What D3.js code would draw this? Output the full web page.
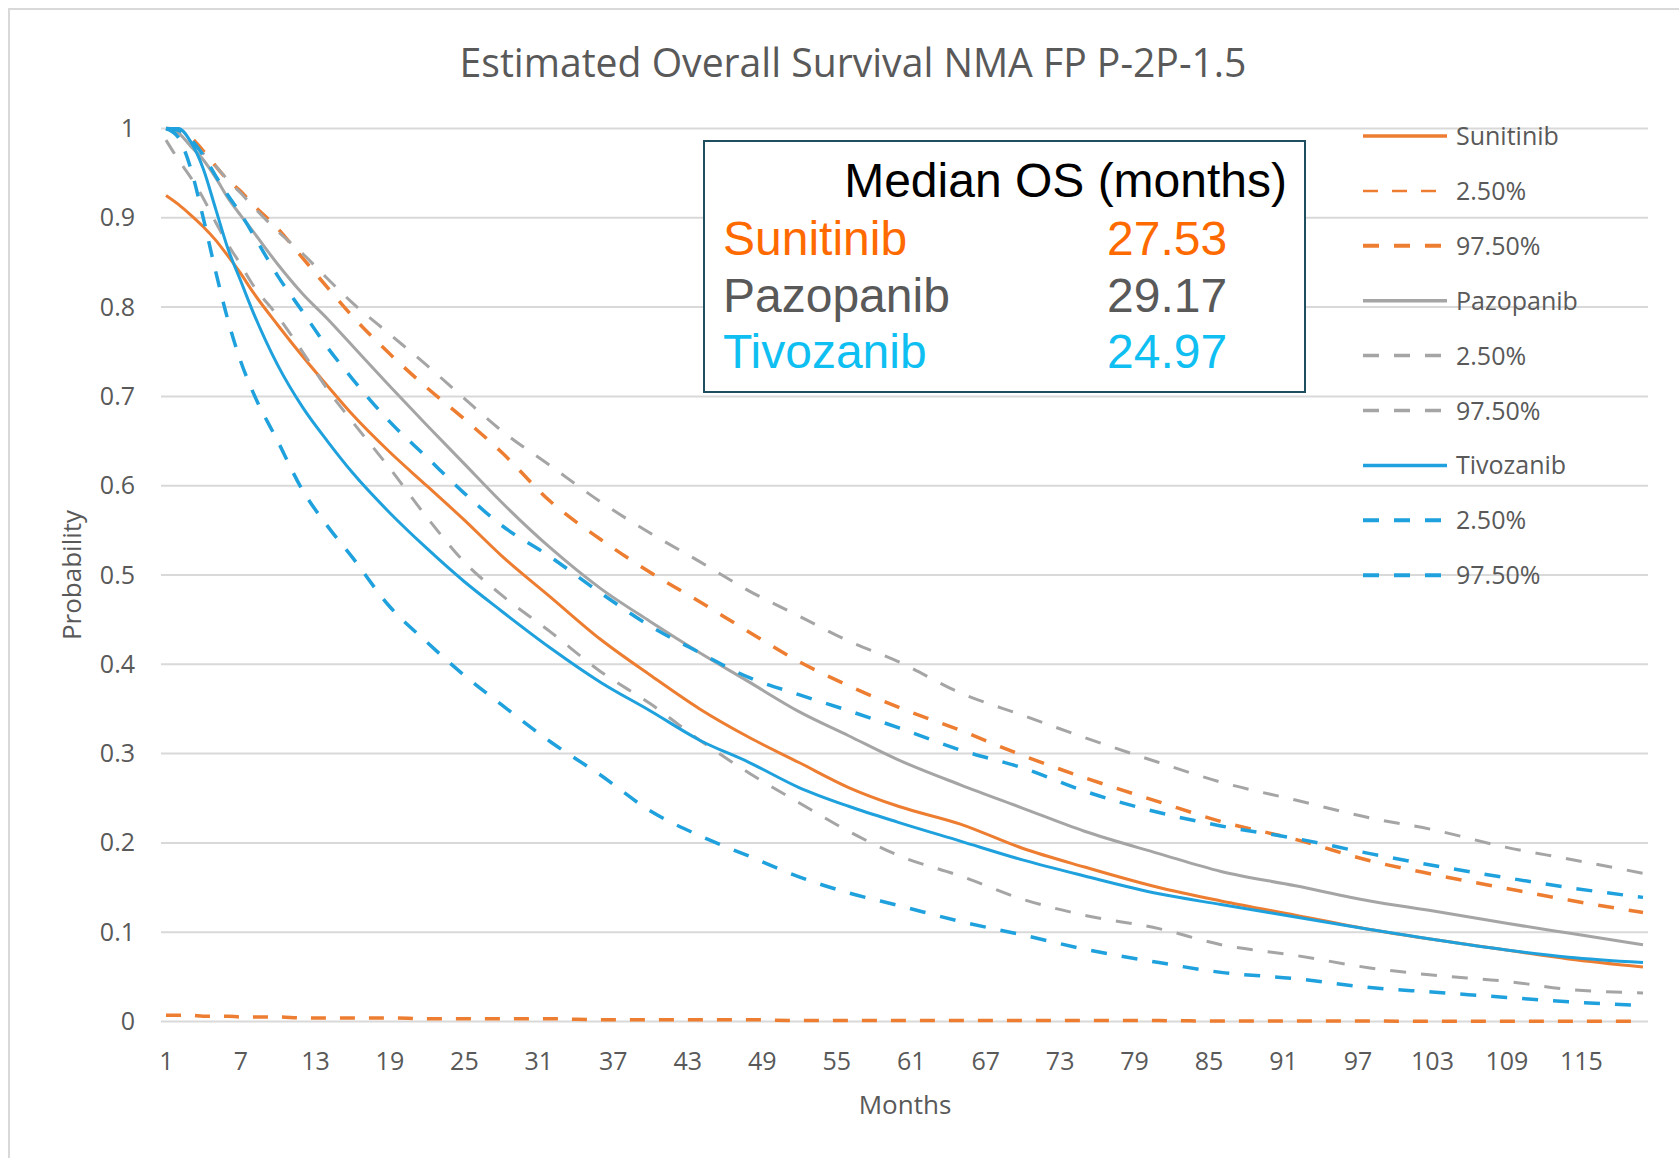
<!DOCTYPE html>
<html>
<head>
<meta charset="utf-8">
<script src="https://cdn.jsdelivr.net/npm/d3@7"></script>
<style>
  html, body { margin: 0; padding: 0; background: #ffffff; }
  svg { display: block; }
</style>
</head>
<body>
<svg id="chart" width="1679" height="1159"></svg>
<script>
// Survival estimates (probability) sampled at these months
const months = [1, 2, 3, 4, 5, 6, 7, 8, 10, 12, 14, 16, 19, 22, 25, 28, 32, 36, 40, 44, 48, 52, 56, 60, 65, 70, 75, 81, 86, 92, 98, 103, 109, 114, 120];

const sunitinib   = [0.925, 0.915, 0.903, 0.890, 0.875, 0.857, 0.838, 0.817, 0.780, 0.745, 0.712, 0.680, 0.638, 0.600, 0.562, 0.522, 0.475, 0.428, 0.388, 0.350, 0.318, 0.290, 0.262, 0.241, 0.221, 0.194, 0.173, 0.150, 0.135, 0.119, 0.103, 0.092, 0.080, 0.070, 0.061];
const sunitinibLo = [0.007, 0.007, 0.007, 0.006, 0.006, 0.006, 0.005, 0.005, 0.005, 0.004, 0.004, 0.004, 0.004, 0.003, 0.003, 0.003, 0.003, 0.002, 0.002, 0.002, 0.002, 0.001, 0.001, 0.001, 0.001, 0.001, 0.001, 0.001, 0.0005, 0.0005, 0.0005, 0.0003, 0.0003, 0.0003, 0.0003];
const sunitinibHi = [1.000, 0.998, 0.990, 0.975, 0.958, 0.942, 0.930, 0.915, 0.888, 0.855, 0.822, 0.790, 0.748, 0.710, 0.675, 0.638, 0.582, 0.540, 0.503, 0.470, 0.436, 0.403, 0.376, 0.352, 0.326, 0.298, 0.273, 0.246, 0.224, 0.204, 0.180, 0.165, 0.149, 0.136, 0.122];

const pazopanib   = [1.000, 0.995, 0.980, 0.965, 0.945, 0.922, 0.903, 0.885, 0.848, 0.815, 0.787, 0.757, 0.712, 0.668, 0.625, 0.582, 0.530, 0.485, 0.448, 0.413, 0.380, 0.347, 0.320, 0.293, 0.265, 0.239, 0.213, 0.188, 0.168, 0.152, 0.135, 0.124, 0.110, 0.099, 0.086];
const pazopanibLo = [0.987, 0.965, 0.945, 0.922, 0.895, 0.870, 0.848, 0.825, 0.790, 0.750, 0.708, 0.672, 0.620, 0.565, 0.515, 0.478, 0.436, 0.392, 0.356, 0.315, 0.278, 0.245, 0.213, 0.186, 0.163, 0.137, 0.119, 0.104, 0.086, 0.074, 0.060, 0.052, 0.045, 0.036, 0.032];
const pazopanibHi = [1.000, 0.995, 0.985, 0.972, 0.958, 0.942, 0.928, 0.913, 0.885, 0.860, 0.832, 0.805, 0.770, 0.735, 0.698, 0.662, 0.622, 0.582, 0.547, 0.515, 0.482, 0.454, 0.426, 0.403, 0.368, 0.343, 0.318, 0.290, 0.268, 0.248, 0.228, 0.215, 0.195, 0.182, 0.166];

const tivozanib   = [1.000, 1.000, 0.985, 0.955, 0.910, 0.865, 0.830, 0.795, 0.735, 0.688, 0.650, 0.615, 0.570, 0.530, 0.493, 0.460, 0.418, 0.380, 0.348, 0.315, 0.290, 0.262, 0.241, 0.223, 0.202, 0.181, 0.163, 0.143, 0.131, 0.117, 0.103, 0.092, 0.080, 0.072, 0.066];
const tivozanibLo = [1.000, 0.990, 0.955, 0.900, 0.840, 0.785, 0.740, 0.705, 0.650, 0.595, 0.555, 0.520, 0.465, 0.425, 0.388, 0.355, 0.313, 0.276, 0.236, 0.208, 0.185, 0.162, 0.144, 0.130, 0.112, 0.097, 0.081, 0.066, 0.055, 0.048, 0.038, 0.033, 0.027, 0.022, 0.018];
const tivozanibHi = [1.000, 0.998, 0.988, 0.970, 0.947, 0.925, 0.905, 0.882, 0.835, 0.795, 0.755, 0.720, 0.672, 0.632, 0.592, 0.556, 0.520, 0.480, 0.443, 0.413, 0.385, 0.366, 0.348, 0.329, 0.304, 0.284, 0.258, 0.234, 0.219, 0.205, 0.188, 0.175, 0.161, 0.150, 0.139];

const xTickLabels = [1, 7, 13, 19, 25, 31, 37, 43, 49, 55, 61, 67, 73, 79, 85, 91, 97, 103, 109, 115];
const yTickLabels = [0, 0.1, 0.2, 0.3, 0.4, 0.5, 0.6, 0.7, 0.8, 0.9, 1];

const legendLabels = ["Sunitinib", "2.50%", "97.50%", "Pazopanib", "2.50%", "97.50%", "Tivozanib", "2.50%", "97.50%"];

const tableDrugs   = ["Sunitinib", "Pazopanib", "Tivozanib"];
const tableMedians = ["27.53", "29.17", "24.97"];

// Styling
const ORANGE = "#ED7D31", GRAY = "#A5A5A5", BLUE = "#1FA1DD";
const seriesData = [sunitinib, sunitinibLo, sunitinibHi, pazopanib, pazopanibLo, pazopanibHi, tivozanib, tivozanibLo, tivozanibHi];
const seriesStyle = [
  { color: ORANGE, width: 3,   key: 3.5, dash: null },
  { color: ORANGE, width: 3.5, key: 2.5, dash: "15,14" },
  { color: ORANGE, width: 3.5, key: 4,   dash: "16,15" },
  { color: GRAY,   width: 3,   key: 3.5, dash: null },
  { color: GRAY,   width: 3,   key: 3.5, dash: "16,15" },
  { color: GRAY,   width: 3,   key: 3.5, dash: "16,15" },
  { color: BLUE,   width: 3,   key: 3.5, dash: null },
  { color: BLUE,   width: 3.5, key: 4,   dash: "16,15" },
  { color: BLUE,   width: 3.5, key: 4,   dash: "16,15" }
];
const tableColors = ["#FF6A00", "#595959", "#10BFF2"];

const svg = d3.select("#chart");
const labelFont = "'Open Sans', 'DejaVu Sans', sans-serif";

// Outer chart frame
svg.append("path")
  .attr("d", "M9,1158 L9,9 L1679,9")
  .attr("fill", "none").attr("stroke", "#D9D9D9").attr("stroke-width", 2);

const x = d3.scaleLinear().domain([1, 120]).range([166, 1643]);
const y = d3.scaleLinear().domain([0, 1]).range([1021.5, 128.5]);

// Horizontal gridlines
svg.append("g").selectAll("line").data(yTickLabels).join("line")
  .attr("x1", 161).attr("x2", 1648)
  .attr("y1", d => y(d)).attr("y2", d => y(d))
  .attr("stroke", "#D9D9D9").attr("stroke-width", 2);

// Y axis labels
const yAxis = d3.axisLeft(y).tickValues(yTickLabels).tickSize(0).tickPadding(0).tickFormat(d3.format("~g"));
const gy = svg.append("g").attr("transform", "translate(135,0)").call(yAxis);
gy.select(".domain").remove();
gy.selectAll("text").attr("font-family", labelFont).attr("font-size", 25).attr("fill", "#595959");

// X axis labels
const xAxis = d3.axisBottom(x).tickValues(xTickLabels).tickSize(0).tickPadding(0).tickFormat(d3.format("d"));
const gx = svg.append("g").attr("transform", "translate(0,1052)").call(xAxis);
gx.select(".domain").remove();
gx.selectAll("text").attr("font-family", labelFont).attr("font-size", 25).attr("fill", "#595959");

// Curves
const line = d3.line().x((d, i) => x(months[i])).y(d => y(d)).curve(d3.curveMonotoneX);
svg.append("g").selectAll("path").data(seriesData).join("path")
  .attr("d", d => line(d))
  .attr("fill", "none")
  .attr("stroke", (d, i) => seriesStyle[i].color)
  .attr("stroke-width", (d, i) => seriesStyle[i].width)
  .attr("stroke-dasharray", (d, i) => seriesStyle[i].dash)
  .attr("stroke-linejoin", "round");

// Title
svg.append("text")
  .attr("x", 853).attr("y", 77)
  .attr("text-anchor", "middle")
  .attr("font-family", labelFont).attr("font-size", 40).attr("fill", "#595959")
  .attr("textLength", 787).attr("lengthAdjust", "spacingAndGlyphs")
  .text("Estimated Overall Survival NMA FP P-2P-1.5");

// Axis titles
svg.append("text")
  .attr("x", 905).attr("y", 1114)
  .attr("text-anchor", "middle")
  .attr("font-family", labelFont).attr("font-size", 26).attr("fill", "#595959")
  .text("Months");
svg.append("text")
  .attr("transform", "translate(81,575) rotate(-90)")
  .attr("text-anchor", "middle")
  .attr("font-family", labelFont).attr("font-size", 26).attr("fill", "#595959")
  .text("Probability");

// Legend
const legend = svg.append("g");
const rowY = i => 136 + i * 54.9;
legend.selectAll("line").data(legendLabels).join("line")
  .attr("x1", 1363).attr("x2", 1447)
  .attr("y1", (d, i) => rowY(i)).attr("y2", (d, i) => rowY(i))
  .attr("stroke", (d, i) => seriesStyle[i].color)
  .attr("stroke-width", (d, i) => seriesStyle[i].key)
  .attr("stroke-dasharray", (d, i) => seriesStyle[i].dash);
legend.selectAll("text").data(legendLabels).join("text")
  .attr("x", 1456).attr("y", (d, i) => rowY(i) + 9)
  .attr("font-family", labelFont).attr("font-size", 25).attr("fill", "#595959")
  .text(d => d);

// Median OS table
const table = svg.append("g");
table.append("rect")
  .attr("x", 704).attr("y", 141).attr("width", 601).attr("height", 251)
  .attr("fill", "#ffffff").attr("stroke", "#1F4E5F").attr("stroke-width", 2);
const tableFont = "'Liberation Sans', Arial, sans-serif";
table.append("text")
  .attr("x", 1287).attr("y", 197).attr("text-anchor", "end")
  .attr("font-family", tableFont).attr("font-size", 48).attr("fill", "#000000")
  .text("Median OS (months)");
table.selectAll("text.drug").data(tableDrugs).join("text").attr("class", "drug")
  .attr("x", 723).attr("y", (d, i) => 255 + i * 56.7)
  .attr("font-family", tableFont).attr("font-size", 48)
  .attr("fill", (d, i) => tableColors[i])
  .text(d => d);
table.selectAll("text.median").data(tableMedians).join("text").attr("class", "median")
  .attr("x", 1107).attr("y", (d, i) => 255 + i * 56.7)
  .attr("font-family", tableFont).attr("font-size", 48)
  .attr("fill", (d, i) => tableColors[i])
  .text(d => d);
</script>
</body>
</html>
